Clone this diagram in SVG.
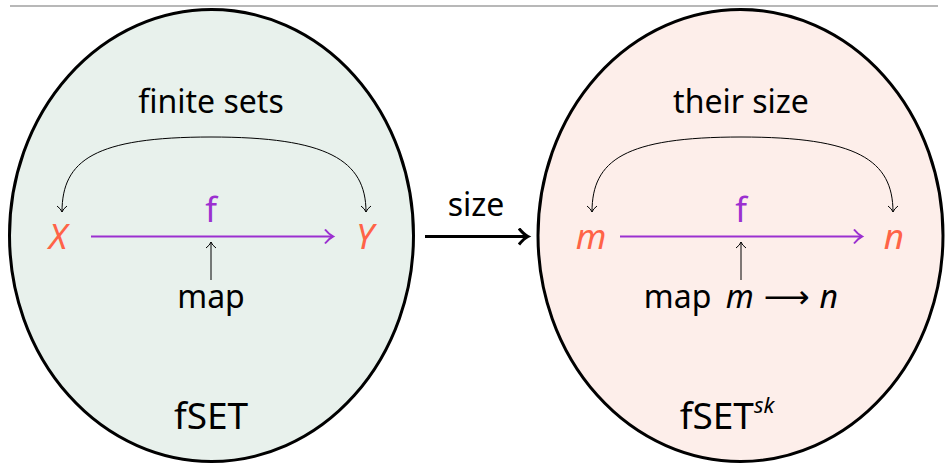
<svg xmlns="http://www.w3.org/2000/svg" width="947" height="465" viewBox="0 0 947 465">
<style>
text{font-family:"Noto Sans","DejaVu Sans",sans-serif;fill:#000;}
.lbl{font-size:32px;text-anchor:middle;}
.obj{font-size:35px;font-style:italic;fill:#ff6347;text-anchor:middle;}
.fn{font-size:34px;fill:#9b30d0;text-anchor:middle;}
.thin{fill:none;stroke:#000;stroke-width:1;}
.purp{fill:none;stroke:#9b30d0;stroke-width:2;}
</style>
<defs>
<marker id="ah" markerWidth="12" markerHeight="12" refX="7" refY="6" orient="auto" markerUnits="userSpaceOnUse">
<path d="M1,1 Q4,5 7,6 Q4,7 1,11" fill="none" stroke="#000" stroke-width="1"/>
</marker>
<marker id="ahp" markerWidth="14" markerHeight="16" refX="9" refY="8" orient="auto" markerUnits="userSpaceOnUse">
<path d="M1,1 Q5,6 9,8 Q5,10 1,15" fill="none" stroke="#9b30d0" stroke-width="2"/>
</marker>
<marker id="ahb" markerWidth="14" markerHeight="18" refX="10" refY="9" orient="auto" markerUnits="userSpaceOnUse">
<path d="M1,1 Q6,7 10,9 Q6,11 1,17" fill="none" stroke="#000" stroke-width="3"/>
</marker>
</defs>
<line x1="10" y1="6" x2="938" y2="6" stroke="#a0a0a0" stroke-width="1.5"/>
<g id="fSET">
<ellipse cx="211.5" cy="235.5" rx="202" ry="226" fill="#e8f1ec" stroke="#000" stroke-width="3"/>
<text class="lbl" x="211" y="113">finite sets</text>
<text class="obj" x="58" y="249">X</text>
<text class="obj" x="365" y="249">Y</text>
<text class="fn" x="211" y="222">f</text>
<text class="lbl" x="211" y="308">map</text>
<text class="lbl" x="211" y="429" style="font-size:37px">fSET</text>
</g>
<g id="fSETsk">
<ellipse cx="740.5" cy="235.5" rx="202.5" ry="226" fill="#fdeeea" stroke="#000" stroke-width="3"/>
<text class="lbl" x="741" y="113">their size</text>
<text class="obj" x="591" y="249">m</text>
<text class="obj" x="894" y="249">n</text>
<text class="fn" x="741" y="222">f</text>
<text class="lbl" x="741" y="308">map <tspan font-style="italic" dx="6">m</tspan><tspan dx="10">⟶</tspan><tspan font-style="italic" dx="10">n</tspan></text>
<text class="lbl" x="727" y="429" style="font-size:37px">fSET<tspan font-size="22" font-style="italic" dy="-16">sk</tspan></text>
</g>
<g id="connectors">
<path class="thin" d="M211,137 C95,137 62,160 62,212" marker-end="url(#ah)"/>
<path class="thin" d="M211,137 C327,137 366,160 366,212" marker-end="url(#ah)"/>
<line class="purp" x1="91" y1="236.5" x2="333" y2="236.5" marker-end="url(#ahp)"/>
<line class="thin" x1="211" y1="280" x2="211" y2="242" marker-end="url(#ah)"/>
<path class="thin" d="M741,137 C625,137 592,160 592,212" marker-end="url(#ah)"/>
<path class="thin" d="M741,137 C857,137 893,160 893,212" marker-end="url(#ah)"/>
<line class="purp" x1="620" y1="236.5" x2="862" y2="236.5" marker-end="url(#ahp)"/>
<line class="thin" x1="741" y1="280" x2="741" y2="242" marker-end="url(#ah)"/>
<line x1="425" y1="236.5" x2="528" y2="236.5" stroke="#000" stroke-width="3" marker-end="url(#ahb)"/>
<text class="lbl" x="476" y="216">size</text>
</g>
</svg>
